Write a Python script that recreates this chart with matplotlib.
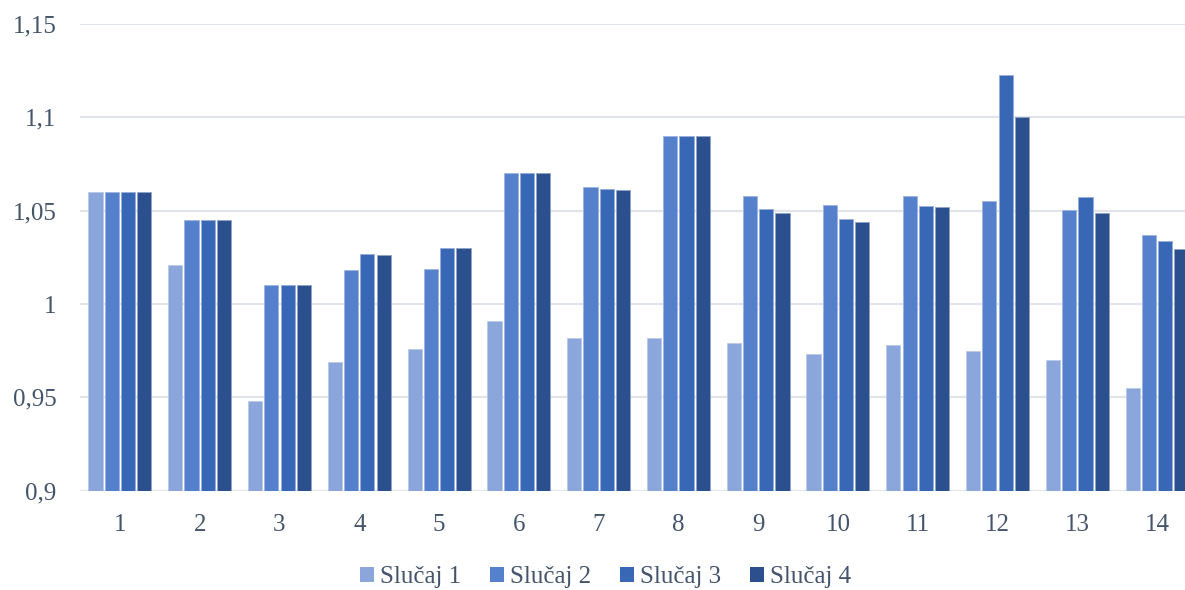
import matplotlib
matplotlib.use("Agg")
import matplotlib.pyplot as plt
import numpy as np
from matplotlib.patches import Patch

categories = [str(i) for i in range(1, 15)]
slucaj1 = [1.060, 1.021, 0.948, 0.969, 0.976, 0.991, 0.982, 0.982, 0.979, 0.973, 0.978, 0.975, 0.970, 0.955]
slucaj2 = [1.060, 1.045, 1.010, 1.018, 1.019, 1.070, 1.0625, 1.090, 1.058, 1.053, 1.0577, 1.055, 1.0505, 1.037]
slucaj3 = [1.060, 1.045, 1.010, 1.0266, 1.030, 1.070, 1.0616, 1.090, 1.0507, 1.0454, 1.0527, 1.1228, 1.0573, 1.034]
slucaj4 = [1.060, 1.045, 1.010, 1.0262, 1.030, 1.070, 1.061, 1.090, 1.049, 1.044, 1.052, 1.100, 1.0487, 1.0294]
series_names = ["Slučaj 1", "Slučaj 2", "Slučaj 3", "Slučaj 4"]
ytick_vals = [0.9, 0.95, 1.0, 1.05, 1.1, 1.15]
ytick_labels = ["0,9", "0,95", "1", "1,05", "1,1", "1,15"]

colors = ["#8AA6DA", "#5580CC", "#3867B5", "#2C4F8E"]
edge_colors = ["#B9CAEA", "#9DB4E2", "#97AEDA", "#8FA3C6"]
text_color = "#44546A"
grid_color = "#E1E5EB"

plt.rcParams['font.family'] = ['Liberation Serif', 'DejaVu Serif']

fig = plt.figure(figsize=(11.85, 5.9), dpi=100)
ax = fig.add_axes([80/1185, (590-490.7)/590, 1117/1185, (490.7-24)/590])

x = np.arange(1, len(categories) + 1)
slot = 0.204
bw = 0.178
data = [slucaj1, slucaj2, slucaj3, slucaj4]
for i, (vals, c, ec) in enumerate(zip(data, colors, edge_colors)):
    offs = (i - 1.5) * slot
    ax.bar(x + offs, np.array(vals) - 0.9, bottom=0.9, width=bw, color=c,
           edgecolor=ec, linewidth=0.6, zorder=3)

ax.set_xlim(0.5, 14.5)
ax.set_ylim(0.9, 1.15)
ax.set_yticks(ytick_vals)
ax.set_yticklabels(ytick_labels)
ax.set_xticks(x)
ax.set_xticklabels(categories)
for s in ax.spines.values():
    s.set_visible(False)
ax.grid(axis='y', color=grid_color, linewidth=1.6, zorder=0)
ax.set_axisbelow(True)
ax.tick_params(axis='both', length=0, labelsize=18, labelcolor=text_color)
ax.tick_params(axis='y', pad=17)
ax.tick_params(axis='x', pad=17)

handles = [Patch(facecolor=c, edgecolor='none') for c in colors]
leg = fig.legend(handles, series_names, loc='center', bbox_to_anchor=(605.5/1185, (590-577)/590),
                 ncol=4, frameon=False, fontsize=18, handlelength=0.55, handleheight=0.55,
                 handletextpad=0.25, columnspacing=1.15, borderpad=0, borderaxespad=0)
for t in leg.get_texts():
    t.set_color(text_color)

fig.savefig("out.png", dpi=100)
